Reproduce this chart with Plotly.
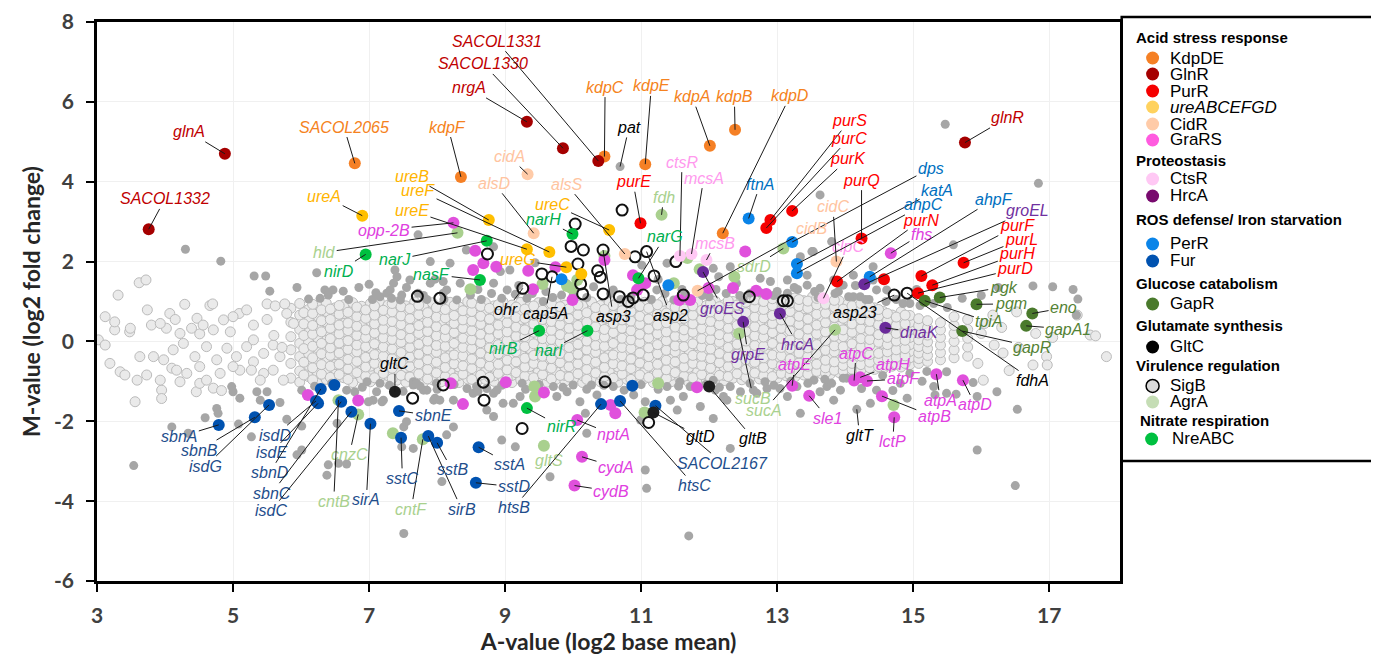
import plotly.graph_objects as go

# ======================= DATA =======================
# Labelled / highlighted genes per regulon ("" = unlabelled point of that regulon)
kdp_names = ["SACOL2065", "kdpF", "kdpC", "kdpE", "kdpA", "kdpB", "kdpD"]
kdp_A = [6.79, 8.35, 10.46, 11.06, 12.01, 12.38, 12.20]
kdp_M = [4.46, 4.12, 4.63, 4.44, 4.90, 5.30, 2.71]

gln_names = ["glnA", "SACOL1332", "SACOL1330", "SACOL1331", "nrgA", "glnR"]
gln_A = [4.88, 3.76, 9.85, 10.37, 9.32, 15.76]
gln_M = [4.70, 2.81, 4.84, 4.52, 5.50, 4.98]

pur_names = ["purE", "purS", "purC", "purK", "purQ", "purN", "purF", "purL", "purH", "purD", ""]
pur_A = [10.99, 12.90, 12.84, 13.22, 14.24, 13.88, 15.12, 15.74, 15.28, 15.07, 14.57]
pur_M = [2.96, 3.04, 2.84, 3.27, 2.58, 1.50, 1.64, 1.97, 1.41, 1.21, 1.56]

ure_names = ["ureA", "ureB", "ureF", "ureE", "ureG", "ureC", ""]
ure_A = [6.90, 8.76, 9.65, 9.32, 9.90, 10.53, 10.12]
ure_M = [3.15, 3.04, 2.24, 2.31, 1.86, 2.79, 1.69]

cid_names = ["cidA", "alsD", "alsS", "cidC", "cidB"]
cid_A = [9.33, 9.42, 10.76, 13.87, 11.83]
cid_M = [4.19, 2.71, 2.19, 2.00, 1.27]

gra_names = ["opp-2B", "fhs", "atpE", "sle1", "atpC", "atpH", "atpF", "atpA", "atpD",
             "atpB", "lctP", "nptA", "cydA", "cydB"] + [""] * 28
gra_A = [8.24, 14.67, 13.22, 13.47, 14.13, 14.22, 14.32, 15.34, 15.73, 14.54, 14.72, 10.06, 10.13, 10.02,
         8.56, 8.68, 8.87, 8.53, 9.34, 9.41, 9.74, 9.99, 10.46, 10.88, 11.06, 10.94, 11.56, 11.72,
         12.53, 12.35, 12.69, 12.84, 11.99, 6.10, 6.84, 8.20, 8.38, 9.01, 9.57, 10.55, 10.62, 11.82]
gra_M = [2.97, 2.21, -1.11, -1.36, -0.98, -0.90, -0.99, -0.82, -0.97, -1.37, -1.90, -1.97, -2.89, -3.61,
         2.27, 1.96, 1.87, 1.79, 1.77, 1.31, 1.86, 1.04, 2.04, 1.66, 1.46, 1.29, 1.04, 1.04,
         2.25, 1.34, 1.27, 1.19, 1.34, -1.34, -1.48, -1.05, -1.57, -1.02, -1.28, -1.59, -1.80, -1.15]

cts_names = ["ctsR", "mcsA", "mcsB", "clpC"]
cts_A = [11.57, 11.74, 11.96, 13.68]
cts_M = [2.14, 2.19, 2.04, 1.08]

hrc_names = ["groES", "grpE", "hrcA", "dnaK", "groEL"]
hrc_A = [11.91, 12.50, 13.04, 14.59, 14.28]
hrc_M = [1.74, 0.49, 0.70, 0.34, 1.43]

per_names = ["ftnA", "dps", "katA", "ahpC", "ahpF", "", ""]
per_A = [12.58, 13.22, 13.29, 13.29, 14.36, 9.83, 11.40]
per_M = [3.08, 2.49, 1.94, 1.71, 1.62, 1.56, 1.41]

fur_names = ["sbnA", "sbnB", "isdG", "isdD", "isdE", "sbnD", "sbnC", "isdC", "sirA", "sbnE", "sstC",
             "sirB", "sstB", "sstA", "sstD", "htsB", "htsC", "SACOL2167", "", ""]
fur_A = [4.79, 5.32, 5.53, 6.22, 6.25, 6.29, 6.59, 6.74, 7.02, 7.44, 7.47, 7.87, 8.00, 8.61, 8.57,
         10.41, 10.69, 11.21, 6.49, 10.87]
fur_M = [-2.09, -1.90, -1.59, -1.49, -1.55, -1.19, -1.51, -1.76, -2.06, -1.74, -2.41, -2.37, -2.54,
         -2.65, -3.54, -1.57, -1.49, -1.61, -1.09, -1.11]

gap_names = ["pgk", "pgm", "tpiA", "eno", "gapA1", "gapR"]
gap_A = [15.39, 15.93, 15.17, 16.75, 16.66, 15.72]
gap_M = [1.10, 0.93, 1.02, 0.70, 0.39, 0.26]

gltc_names = ["gltC", "gltB", "gltD"]
gltc_A = [7.38, 12.00, 11.18]
gltc_M = [-1.26, -1.13, -1.78]

sigb_names = ["ohr", "cap5A", "asp3", "asp2", "asp23", "fdhA"] + [""] * 32
sigb_A = [9.26, 9.69, 10.44, 11.08, 14.72, 14.91,
          10.72, 10.03, 9.97, 10.15, 10.07, 9.54, 10.11, 10.14, 8.74, 7.71, 8.04, 10.36, 10.40, 10.44,
          10.68, 10.81, 10.91, 11.19, 11.03, 11.51, 11.62, 12.59, 13.09, 13.15, 8.09, 8.68, 7.64, 8.69,
          10.47, 9.25, 11.11, 10.88]
sigb_M = [1.33, 1.62, 2.29, 2.25, 1.16, 1.21,
          3.29, 2.94, 2.38, 2.29, 1.94, 1.69, 1.44, 1.19, 2.19, 1.13, 1.08, 1.77, 1.61, 1.19,
          1.12, 1.00, 2.12, 1.64, 1.16, 2.00, 1.16, 1.12, 1.02, 1.02, -1.09, -1.02, -1.42, -1.47,
          -1.01, -2.18, -2.03, 1.09]

agr_names = ["hld", "fdh", "sdrD", "sucB", "sucA", "cnzC", "cntB", "cntF", "gltS"] + [""] * 16
agr_A = [8.30, 11.30, 13.09, 12.44, 13.85, 6.84, 6.55, 7.79, 9.57,
         7.35, 9.43, 9.44, 11.25, 11.05, 8.49, 9.55, 9.91, 10.06, 9.98, 10.46, 11.48, 11.68, 11.86,
         12.37, 14.71]
agr_M = [2.72, 3.17, 2.33, 0.20, 0.29, -1.83, -1.47, -2.45, -2.61,
         -2.30, -1.13, -1.38, -1.05, -1.78, 1.31, 1.44, 1.39, 1.54, 1.33, 2.14, 1.46, 2.09, 1.81,
         1.62, -1.59]

nre_names = ["nirD", "narJ", "nasF", "narH", "narG", "nirB", "narI", "nirR"]
nre_A = [6.95, 8.73, 8.63, 9.99, 10.96, 9.50, 10.21, 9.32]
nre_M = [2.18, 2.52, 1.54, 2.69, 1.58, 0.27, 0.27, -1.67]

# labelled genes that are not part of a coloured regulon
other_names = ["pat", "gltT"]
other_A = [10.69, 14.17]
other_M = [4.38, -1.70]

# significant, non-highlighted genes (dark grey)
sig_gray = [
    (3.54, -3.11), (4.30, 2.31), (4.82, 2.01), (5.31, 1.64), (5.48, 1.64), (6.23, 1.72), (5.94, 1.35),
    (5.54, 1.26), (6.11, 1.06), (6.62, 1.26), (7.00, 1.43), (7.72, 2.67), (7.90, 2.00), (7.38, 1.79),
    (7.41, 1.62), (7.36, 1.46), (7.97, 1.56), (8.09, 1.50), (8.19, 1.96), (7.46, 1.04), (7.16, 1.12),
    (7.26, 1.21), (6.35, 1.29), (6.40, 1.16), (6.47, 1.29), (6.28, 1.08), (8.09, 1.21), (8.29, 1.04),
    (7.90, 1.46), (7.72, 1.21), (7.60, 1.54), (7.33, 1.08), (8.43, 2.29), (8.83, 2.37), (8.93, 1.75),
    (9.07, 1.79), (8.34, 1.46), (8.83, 1.46), (9.03, 1.29), (7.31, 1.29), (7.48, 1.16), (8.14, 1.29),
    (8.49, 1.16), (8.95, 1.08), (9.32, 1.08), (9.56, 1.00), (9.83, 1.16), (9.44, 1.97), (10.30, 1.37),
    (10.59, 1.29), (11.01, 1.91), (11.23, 1.29), (11.38, 1.96), (11.48, 1.04), (13.63, 3.67),
    (13.51, 2.25), (13.34, 2.12), (13.44, 1.41), (13.15, 1.54), (12.90, 1.50), (12.75, 1.58),
    (12.60, 1.21), (12.31, 1.87), (12.14, 1.62), (12.06, 1.83), (13.15, 1.21), (13.63, 1.33),
    (13.83, 1.54), (13.97, 1.41), (14.12, 1.66), (14.41, 1.87), (14.46, 1.29), (14.22, 1.12),
    (14.61, 1.29), (14.41, 1.54), (14.12, 1.12), (13.80, 2.50), (13.53, 2.25), (13.44, 1.66),
    (15.59, 2.42), (15.72, 1.08), (16.76, 1.39), (17.05, 1.37), (17.35, 1.30), (17.42, 1.06),
    (17.40, 0.66), (16.84, 3.96), (15.47, 5.44),
    (9.60, 1.25), (9.90, 1.45), (10.20, 1.10), (10.70, 1.05), (10.95, 1.35), (11.25, 1.55),
    (11.60, 1.30), (11.90, 1.15), (12.10, 1.30), (12.40, 1.45), (12.50, 1.05), (12.95, 1.15),
    (13.25, 1.35), (13.60, 1.10), (13.90, 1.25), (14.15, 1.40), (14.30, 1.05), (14.75, 1.05),
    (14.95, 0.95), (15.05, 1.30), (15.30, 0.95), (15.50, 0.85), (16.00, 1.15), (16.25, 1.35),
    (6.85, 1.35), (6.70, 1.05), (7.05, 1.05), (7.55, 1.35), (7.85, 1.05), (8.60, 1.30), (8.65, 1.05),
    (9.20, 1.40), (9.40, 1.20), (8.10, 1.05), (7.10, 1.22), (7.80, 1.15), (8.80, 1.20), (9.15, 1.18),
    (9.70, 1.10), (10.00, 1.15), (10.55, 1.20), (10.85, 1.12), (11.15, 1.05), (11.35, 1.20),
    (11.65, 1.18), (12.00, 1.12), (12.25, 1.20), (12.45, 1.15), (12.75, 1.22), (13.00, 1.25),
    (13.30, 1.30), (13.55, 1.25), (13.85, 1.20), (14.05, 1.12), (14.35, 1.05), (14.60, 1.00),
    (14.85, 0.95), (15.10, 0.90),
    (4.98, -1.13), (5.00, -1.26), (5.10, -1.42), (4.76, -1.68), (4.78, -1.80), (4.59, -1.91),
    (4.10, -2.14), (4.34, -2.30), (5.08, -2.07), (5.27, -2.39), (5.79, -1.95), (6.01, -2.12),
    (5.94, -2.84), (6.40, -3.09), (6.67, -3.07), (6.53, -2.05), (5.35, -1.26), (5.40, -1.47),
    (5.50, -1.26), (5.69, -1.53), (6.01, -1.22), (6.79, -1.26), (6.97, -1.01), (7.16, -1.05),
    (7.06, -1.47), (7.21, -1.47), (7.65, -1.01), (7.80, -1.22), (7.97, -1.42), (8.14, -2.34),
    (8.07, -3.51), (7.48, -2.64), (7.51, -2.14), (7.51, -4.81), (6.67, -1.22), (6.99, -1.51),
    (7.11, -1.26), (7.19, -1.51), (7.65, -1.09), (7.95, -1.47), (8.44, -1.18), (8.53, -1.30),
    (8.73, -1.72), (8.83, -1.30), (7.55, -2.01), (7.65, -2.68), (8.24, -2.14), (6.55, -3.05),
    (6.38, -3.35), (6.01, -2.72), (7.70, -1.05), (7.85, -1.22), (7.99, -1.05), (8.04, -1.47),
    (8.24, -1.47), (8.58, -1.13), (8.73, -1.18), (8.88, -1.22), (8.97, -1.55), (8.83, -1.88),
    (9.12, -1.55), (9.22, -1.38), (9.25, -1.05), (9.71, -1.13), (9.76, -1.38), (9.91, -1.26),
    (10.00, -1.09), (10.10, -1.51), (10.18, -1.80), (10.27, -1.09), (10.35, -1.34), (10.59, -1.13),
    (10.89, -1.34), (10.99, -1.97), (11.06, -1.51), (11.38, -1.13), (11.43, -1.47), (11.53, -1.72),
    (11.62, -1.38), (11.72, -1.13), (11.87, -1.63), (12.09, -1.22), (12.21, -1.38), (12.31, -1.13),
    (12.46, -1.26), (12.70, -1.30), (12.85, -1.18), (12.06, -1.93), (12.31, -2.68), (11.06, -3.22),
    (11.08, -3.68), (9.66, -3.39), (9.15, -2.64), (8.95, -2.47), (10.20, -2.30), (13.34, -1.80),
    (13.15, -1.38), (13.29, -1.13), (13.83, -1.47), (11.57, -1.01), (12.06, -0.97), (12.26, -1.47),
    (12.65, -1.22), (12.82, -1.01), (13.04, -1.18), (13.54, -0.97), (13.73, -1.13), (13.93, -1.22),
    (14.02, -0.92), (14.37, -1.55), (14.46, -1.22), (14.91, -1.42), (14.81, -1.05), (15.49, -0.76),
    (15.30, -1.13), (16.23, -1.26), (15.88, -1.03), (15.94, -1.38), (15.63, -1.32), (15.49, -1.30),
    (15.32, -1.34), (15.13, -1.00), (14.70, -1.23), (16.53, -1.70), (15.94, -2.72), (16.50, -3.61),
    (14.24, -1.18), (13.80, -1.05), (13.63, -1.26), (13.97, -0.92), (11.70, -4.87),
    (6.20, -1.12), (6.45, -1.05), (6.90, -1.15), (7.30, -1.10), (7.50, -1.25), (7.75, -1.12),
    (8.00, -1.20), (8.25, -1.08), (8.60, -1.25), (8.95, -1.10), (9.30, -1.20), (9.50, -1.08),
    (9.85, -1.15), (10.20, -1.20), (10.45, -1.10), (10.75, -1.22), (11.00, -1.08), (11.25, -1.20),
    (11.55, -1.12), (11.95, -1.08), (12.15, -1.15), (12.60, -1.05), (12.95, -1.10), (13.20, -1.00),
    (13.45, -1.05), (13.70, -0.95), (14.10, -0.92), (14.55, -0.85), (14.95, -0.80), (15.20, -0.75),
]

# non-significant genes (light grey cloud): sparse outer points
bg_sparse = [
    (3.02, 0.04), (3.12, -0.09), (3.26, 0.29), (3.12, 0.62), (3.26, 0.49), (3.31, 1.16), (3.62, 1.47),
    (3.72, 1.54), (3.19, -0.55), (3.34, -0.76), (3.41, -0.84), (3.56, -1.51), (3.59, -0.97),
    (3.73, -0.84), (3.74, 0.79), (3.95, -1.22), (3.95, -1.43), (4.07, 0.70), (4.15, 0.55),
    (4.10, -0.67), (4.22, -1.01), (4.29, 0.93), (4.47, 0.58), (4.46, -1.26), (4.51, -1.05),
    (4.66, 0.90), (4.70, 0.94), (4.71, -1.17), (4.83, -1.23), (5.09, 0.70), (5.10, -0.72), (5.20, 0.79),
    (5.30, -0.51), (5.45, -0.80), (5.50, 0.94), (5.62, 0.89), (5.74, -0.97), (5.76, 0.94),
    (3.48, 0.24), (3.80, 0.41), (4.22, 0.20), (4.39, 0.33), (4.51, 0.19), (4.71, 0.29), (4.96, 0.24),
    (3.63, -0.38), (3.83, -0.38), (3.98, -0.46), (4.12, -0.21), (4.27, -0.05), (4.44, -0.38),
    (4.61, -0.13), (4.76, -0.46), (4.91, -0.17), (5.05, -0.38), (5.20, -0.13), (5.30, 0.04),
    (5.45, -0.30), (5.59, -0.09), (4.32, -0.80), (4.61, -0.97), (4.81, -0.80), (5.00, -0.63),
    (5.27, -0.72), (5.40, -0.97), (5.59, -0.72), (5.69, -0.38), (3.93, -0.97), (4.17, -0.72),
    (4.51, -0.63), (5.00, 0.62), (5.30, 0.41), (5.79, 0.70), (5.89, 0.45), (4.02, 0.33), (4.56, 0.41),
    (4.86, 0.54), (3.93, 0.45), (3.49, 0.33), (5.60, 0.15), (5.72, -0.15), (5.50, 0.55),
    (15.95, -0.55), (16.00, 0.20), (16.05, 0.45), (16.19, -0.09), (16.17, 0.66), (16.32, -0.29),
    (16.41, -0.73), (16.52, 0.74), (16.55, -0.15), (16.76, -0.59), (16.96, -0.38), (16.97, -0.59),
    (17.05, 0.10), (17.41, 0.66), (17.60, 0.16), (17.68, 0.14), (17.84, -0.38), (16.30, 0.35),
    (16.80, 0.20), (16.03, -0.97),
]

# non-significant genes (light grey cloud): dense core, one column of M values per A position
bg_col_A = [5.85, 5.98, 6.11, 6.24, 6.37, 6.50, 6.63, 6.76, 6.89, 7.02, 7.15, 7.28, 7.41, 7.54, 7.67,
            7.80, 7.93, 8.06, 8.19, 8.32, 8.45, 8.58, 8.71, 8.84, 8.97, 9.10, 9.23, 9.36, 9.49, 9.62,
            9.75, 9.88, 10.01, 10.14, 10.27, 10.40, 10.53, 10.66, 10.79, 10.92, 11.05, 11.18, 11.31,
            11.44, 11.57, 11.70, 11.83, 11.96, 12.09, 12.22, 12.35, 12.48, 12.61, 12.74, 12.87, 13.00,
            13.13, 13.26, 13.39, 13.52, 13.65, 13.78, 13.91, 14.04, 14.17, 14.30, 14.43, 14.56, 14.69,
            14.82, 14.95, 15.08, 15.21, 15.40, 15.60, 15.80]
bg_col_M = [
    [-0.92, -0.55, -0.21, 0.12, 0.48, 0.83],
    [-1.02, -0.74, -0.38, -0.05, 0.30, 0.66, 0.95],
    [-0.88, -0.60, -0.30, -0.02, 0.22, 0.51, 0.80],
    [-1.05, -0.78, -0.47, -0.16, 0.10, 0.37, 0.64, 0.90],
    [-0.95, -0.70, -0.42, -0.25, 0.02, 0.27, 0.49, 0.75, 0.96],
    [-1.00, -0.82, -0.58, -0.33, -0.12, 0.13, 0.36, 0.60, 0.84],
    [-0.91, -0.68, -0.47, -0.22, 0.01, 0.24, 0.45, 0.70, 0.92],
    [-1.03, -0.80, -0.59, -0.37, -0.14, 0.11, 0.33, 0.56, 0.79, 0.97],
    [-0.93, -0.72, -0.50, -0.27, -0.05, 0.19, 0.41, 0.64, 0.88],
    [-1.01, -0.83, -0.62, -0.40, -0.17, 0.06, 0.29, 0.51, 0.74, 0.95],
    [-0.94, -0.73, -0.51, -0.30, -0.08, 0.15, 0.38, 0.60, 0.83, 1.00],
    [-1.04, -0.86, -0.64, -0.42, -0.20, 0.03, 0.25, 0.47, 0.70, 0.91],
    [-0.97, -0.76, -0.55, -0.33, -0.11, 0.12, 0.35, 0.57, 0.80, 0.98],
    [-1.02, -0.84, -0.65, -0.44, -0.22, 0.00, 0.22, 0.45, 0.67, 0.89],
    [-0.93, -0.74, -0.53, -0.31, -0.09, 0.13, 0.34, 0.56, 0.78, 0.99],
    [-1.03, -0.85, -0.63, -0.41, -0.19, 0.04, 0.26, 0.48, 0.69, 0.90],
    [-0.96, -0.75, -0.54, -0.32, -0.10, 0.11, 0.33, 0.55, 0.77, 0.97],
    [-1.01, -0.86, -0.66, -0.43, -0.21, 0.02, 0.24, 0.46, 0.68, 0.88],
    [-0.95, -0.77, -0.55, -0.34, -0.12, 0.10, 0.32, 0.53, 0.76, 0.98],
    [-1.03, -0.85, -0.64, -0.42, -0.20, 0.01, 0.23, 0.44, 0.66, 0.87],
    [-0.94, -0.74, -0.53, -0.31, -0.09, 0.14, 0.36, 0.58, 0.79, 1.00],
    [-1.02, -0.84, -0.63, -0.41, -0.19, 0.04, 0.25, 0.47, 0.69, 0.90],
    [-0.95, -0.76, -0.54, -0.32, -0.11, 0.12, 0.34, 0.56, 0.78, 0.97],
    [-1.00, -0.86, -0.65, -0.43, -0.21, 0.02, 0.24, 0.45, 0.67, 0.89],
    [-0.93, -0.75, -0.53, -0.30, -0.08, 0.13, 0.35, 0.57, 0.80, 0.99],
    [-1.03, -0.85, -0.64, -0.42, -0.20, 0.03, 0.26, 0.48, 0.70, 0.91],
    [-0.96, -0.74, -0.52, -0.31, -0.10, 0.12, 0.33, 0.55, 0.77, 0.98],
    [-1.01, -0.84, -0.63, -0.41, -0.18, 0.04, 0.25, 0.46, 0.68, 0.88],
    [-0.94, -0.76, -0.55, -0.33, -0.11, 0.11, 0.32, 0.54, 0.76, 0.97],
    [-1.02, -0.86, -0.65, -0.43, -0.22, 0.01, 0.23, 0.45, 0.67, 0.90],
    [-0.95, -0.75, -0.54, -0.32, -0.09, 0.14, 0.36, 0.58, 0.79, 1.00],
    [-1.00, -0.85, -0.64, -0.42, -0.20, 0.02, 0.24, 0.46, 0.69, 0.91],
    [-0.93, -0.74, -0.53, -0.31, -0.10, 0.12, 0.34, 0.56, 0.78, 0.98],
    [-1.03, -0.86, -0.65, -0.43, -0.21, 0.03, 0.25, 0.47, 0.68, 0.89],
    [-0.96, -0.76, -0.55, -0.33, -0.11, 0.11, 0.33, 0.55, 0.77, 0.99],
    [-1.01, -0.84, -0.63, -0.41, -0.19, 0.02, 0.24, 0.46, 0.69, 0.90],
    [-0.94, -0.75, -0.54, -0.32, -0.10, 0.13, 0.35, 0.57, 0.78, 0.97],
    [-1.02, -0.85, -0.64, -0.42, -0.20, 0.04, 0.26, 0.48, 0.70, 0.91],
    [-0.95, -0.74, -0.52, -0.31, -0.09, 0.12, 0.34, 0.55, 0.77, 0.99],
    [-1.00, -0.86, -0.65, -0.43, -0.21, 0.01, 0.23, 0.45, 0.67, 0.88],
    [-0.93, -0.76, -0.55, -0.33, -0.11, 0.11, 0.33, 0.56, 0.78, 0.98],
    [-1.03, -0.84, -0.63, -0.41, -0.19, 0.03, 0.25, 0.47, 0.69, 0.90],
    [-0.96, -0.75, -0.53, -0.32, -0.10, 0.13, 0.35, 0.57, 0.79, 1.00],
    [-1.01, -0.85, -0.64, -0.42, -0.20, 0.02, 0.24, 0.46, 0.68, 0.89],
    [-0.94, -0.74, -0.54, -0.31, -0.09, 0.12, 0.34, 0.56, 0.77, 0.97],
    [-1.02, -0.86, -0.65, -0.43, -0.21, 0.04, 0.26, 0.48, 0.70, 0.91],
    [-0.95, -0.76, -0.55, -0.33, -0.11, 0.11, 0.33, 0.55, 0.78, 0.99],
    [-0.99, -0.84, -0.63, -0.41, -0.19, 0.02, 0.24, 0.46, 0.69, 0.90],
    [-0.93, -0.75, -0.53, -0.32, -0.10, 0.13, 0.35, 0.57, 0.79, 1.01],
    [-0.98, -0.85, -0.64, -0.42, -0.20, 0.03, 0.25, 0.47, 0.68, 0.92],
    [-0.92, -0.74, -0.52, -0.31, -0.09, 0.12, 0.34, 0.56, 0.78, 1.00],
    [-0.96, -0.83, -0.63, -0.41, -0.19, 0.01, 0.23, 0.45, 0.67, 0.89, 1.06],
    [-0.90, -0.72, -0.53, -0.32, -0.10, 0.12, 0.34, 0.56, 0.79, 1.01],
    [-0.94, -0.81, -0.62, -0.40, -0.18, 0.03, 0.25, 0.47, 0.69, 0.91, 1.08],
    [-0.88, -0.70, -0.51, -0.30, -0.08, 0.14, 0.36, 0.58, 0.80, 1.02],
    [-0.92, -0.80, -0.60, -0.39, -0.17, 0.04, 0.26, 0.48, 0.70, 0.92, 1.10],
    [-0.86, -0.69, -0.49, -0.28, -0.07, 0.15, 0.37, 0.59, 0.81, 1.03],
    [-0.89, -0.77, -0.58, -0.37, -0.16, 0.05, 0.27, 0.49, 0.71, 0.93, 1.09],
    [-0.84, -0.67, -0.47, -0.26, -0.05, 0.16, 0.38, 0.60, 0.82, 1.02],
    [-0.86, -0.74, -0.56, -0.35, -0.14, 0.07, 0.28, 0.50, 0.72, 0.94, 1.12],
    [-0.81, -0.64, -0.45, -0.24, -0.03, 0.18, 0.39, 0.61, 0.83, 1.04],
    [-0.82, -0.70, -0.53, -0.33, -0.12, 0.09, 0.30, 0.51, 0.73, 0.95],
    [-0.78, -0.61, -0.42, -0.22, -0.01, 0.20, 0.41, 0.62, 0.84, 1.02],
    [-0.79, -0.66, -0.50, -0.31, -0.10, 0.11, 0.32, 0.53, 0.74, 0.94],
    [-0.74, -0.57, -0.39, -0.20, 0.01, 0.22, 0.43, 0.64, 0.85],
    [-0.75, -0.62, -0.46, -0.28, -0.08, 0.13, 0.34, 0.55, 0.76, 0.92],
    [-0.70, -0.53, -0.36, -0.17, 0.03, 0.24, 0.45, 0.66, 0.84],
    [-0.68, -0.55, -0.40, -0.24, -0.05, 0.15, 0.36, 0.57, 0.75],
    [-0.62, -0.46, -0.30, -0.12, 0.07, 0.27, 0.47, 0.66],
    [-0.64, -0.50, -0.35, -0.19, -0.01, 0.18, 0.38, 0.58, 0.74],
    [-0.58, -0.41, -0.25, -0.08, 0.10, 0.29, 0.48, 0.65],
    [-0.55, -0.43, -0.29, -0.13, 0.04, 0.21, 0.40, 0.57],
    [-0.50, -0.35, -0.18, -0.01, 0.16, 0.34, 0.52],
    [-0.46, -0.28, -0.09, 0.10, 0.29, 0.47],
    [-0.41, -0.21, 0.00, 0.20, 0.40, 0.62],
    [-0.37, -0.14, 0.08, 0.30, 0.55],
]
# second, interleaved layer of the dense core: (A, [M values])
bg_layer2 = [
    (6.04, [-0.84, -0.52, -0.18, 0.15, 0.44, 0.72]),
    (6.17, [-0.96, -0.66, -0.41, -0.12, 0.18, 0.40, 0.70, 0.93]),
    (6.30, [-0.82, -0.58, -0.31, -0.05, 0.24, 0.52, 0.79]),
    (6.43, [-0.90, -0.62, -0.35, -0.16, 0.07, 0.33, 0.55, 0.81]),
    (6.56, [-0.83, -0.57, -0.29, -0.04, 0.19, 0.41, 0.68, 0.90]),
    (6.69, [-0.95, -0.69, -0.45, -0.20, 0.02, 0.27, 0.46, 0.73]),
    (6.82, [-0.78, -0.50, -0.26, -0.09, 0.15, 0.38, 0.62, 0.86]),
    (6.95, [-0.87, -0.64, -0.40, -0.13, 0.10, 0.29, 0.58, 0.79]),
    (7.08, [-0.91, -0.55, -0.33, -0.06, 0.21, 0.44, 0.66, 0.89]),
    (7.21, [-0.80, -0.60, -0.37, -0.14, 0.09, 0.31, 0.53, 0.78]),
    (7.34, [-0.93, -0.67, -0.43, -0.19, 0.05, 0.26, 0.50, 0.74, 0.95]),
    (7.47, [-0.85, -0.53, -0.28, -0.02, 0.17, 0.42, 0.64, 0.87]),
    (7.60, [-0.89, -0.63, -0.39, -0.15, 0.08, 0.32, 0.57, 0.82]),
    (7.73, [-0.81, -0.56, -0.32, -0.07, 0.20, 0.40, 0.67, 0.91]),
    (7.86, [-0.94, -0.70, -0.46, -0.21, 0.01, 0.25, 0.48, 0.72]),
    (7.99, [-0.79, -0.52, -0.27, -0.10, 0.14, 0.37, 0.61, 0.85]),
    (8.12, [-0.88, -0.65, -0.41, -0.12, 0.11, 0.30, 0.59, 0.80]),
    (8.25, [-0.92, -0.56, -0.34, -0.05, 0.22, 0.45, 0.65, 0.90]),
    (8.38, [-0.82, -0.61, -0.36, -0.15, 0.08, 0.33, 0.54, 0.77]),
    (8.51, [-0.95, -0.68, -0.44, -0.18, 0.04, 0.27, 0.51, 0.75, 0.96]),
    (8.64, [-0.84, -0.54, -0.29, -0.03, 0.18, 0.43, 0.63, 0.88]),
    (8.77, [-0.90, -0.62, -0.38, -0.16, 0.09, 0.31, 0.56, 0.83]),
    (8.90, [-0.80, -0.57, -0.31, -0.08, 0.19, 0.41, 0.68, 0.92]),
    (9.03, [-0.93, -0.71, -0.47, -0.22, 0.02, 0.24, 0.47, 0.71]),
    (9.16, [-0.78, -0.51, -0.26, -0.11, 0.13, 0.36, 0.60, 0.86]),
    (9.29, [-0.87, -0.64, -0.42, -0.13, 0.12, 0.29, 0.58, 0.81]),
    (9.42, [-0.91, -0.55, -0.35, -0.06, 0.23, 0.44, 0.66, 0.89]),
    (9.55, [-0.83, -0.60, -0.37, -0.14, 0.07, 0.32, 0.55, 0.78]),
    (9.68, [-0.94, -0.67, -0.43, -0.19, 0.05, 0.28, 0.50, 0.74, 0.95]),
    (9.81, [-0.85, -0.53, -0.30, -0.02, 0.17, 0.42, 0.64, 0.87]),
    (9.94, [-0.89, -0.63, -0.39, -0.15, 0.10, 0.33, 0.57, 0.82]),
    (10.07, [-0.81, -0.56, -0.32, -0.07, 0.20, 0.40, 0.67, 0.91]),
    (10.20, [-0.95, -0.70, -0.46, -0.21, 0.01, 0.25, 0.48, 0.72]),
    (10.33, [-0.79, -0.52, -0.27, -0.10, 0.14, 0.37, 0.61, 0.85]),
    (10.46, [-0.88, -0.65, -0.41, -0.12, 0.11, 0.30, 0.59, 0.80]),
    (10.59, [-0.92, -0.56, -0.34, -0.05, 0.22, 0.45, 0.65, 0.90]),
    (10.72, [-0.82, -0.61, -0.36, -0.15, 0.08, 0.33, 0.54, 0.77]),
    (10.85, [-0.95, -0.68, -0.44, -0.18, 0.04, 0.27, 0.51, 0.75, 0.96]),
    (10.98, [-0.84, -0.54, -0.29, -0.03, 0.18, 0.43, 0.63, 0.88]),
    (11.11, [-0.90, -0.62, -0.38, -0.16, 0.09, 0.31, 0.56, 0.83]),
    (11.24, [-0.80, -0.57, -0.31, -0.08, 0.19, 0.41, 0.68, 0.92]),
    (11.37, [-0.93, -0.71, -0.47, -0.22, 0.02, 0.24, 0.47, 0.71]),
    (11.50, [-0.78, -0.51, -0.26, -0.11, 0.13, 0.36, 0.60, 0.86]),
    (11.63, [-0.87, -0.64, -0.42, -0.13, 0.12, 0.29, 0.58, 0.81]),
    (11.76, [-0.91, -0.55, -0.35, -0.06, 0.23, 0.44, 0.66, 0.89]),
    (11.89, [-0.83, -0.60, -0.37, -0.14, 0.07, 0.32, 0.55, 0.78]),
    (12.02, [-0.92, -0.67, -0.43, -0.19, 0.05, 0.28, 0.50, 0.74, 0.96]),
    (12.15, [-0.85, -0.53, -0.30, -0.02, 0.17, 0.42, 0.64, 0.87]),
    (12.28, [-0.88, -0.63, -0.39, -0.15, 0.10, 0.33, 0.57, 0.82, 1.02]),
    (12.41, [-0.81, -0.56, -0.32, -0.07, 0.20, 0.40, 0.67, 0.91]),
    (12.54, [-0.90, -0.70, -0.46, -0.21, 0.01, 0.25, 0.48, 0.72, 0.98]),
    (12.67, [-0.79, -0.52, -0.27, -0.10, 0.14, 0.37, 0.61, 0.85, 1.04]),
    (12.80, [-0.86, -0.65, -0.41, -0.12, 0.11, 0.30, 0.59, 0.80, 1.00]),
    (12.93, [-0.88, -0.56, -0.34, -0.05, 0.22, 0.45, 0.65, 0.90, 1.07]),
    (13.06, [-0.80, -0.61, -0.36, -0.15, 0.08, 0.33, 0.54, 0.77, 0.99]),
    (13.19, [-0.85, -0.68, -0.44, -0.18, 0.04, 0.27, 0.51, 0.75, 0.96]),
    (13.32, [-0.78, -0.54, -0.29, -0.03, 0.18, 0.43, 0.63, 0.88, 1.05]),
    (13.45, [-0.82, -0.62, -0.38, -0.16, 0.09, 0.31, 0.56, 0.83, 1.01]),
    (13.58, [-0.75, -0.57, -0.31, -0.08, 0.19, 0.41, 0.68, 0.92, 1.08]),
    (13.71, [-0.79, -0.66, -0.47, -0.22, 0.02, 0.24, 0.47, 0.71, 0.93]),
    (13.84, [-0.72, -0.51, -0.26, -0.11, 0.13, 0.36, 0.60, 0.86, 1.03]),
    (13.97, [-0.74, -0.60, -0.42, -0.13, 0.12, 0.29, 0.58, 0.81]),
    (14.10, [-0.70, -0.55, -0.35, -0.06, 0.23, 0.44, 0.66, 0.89]),
    (14.23, [-0.71, -0.58, -0.37, -0.14, 0.07, 0.32, 0.55, 0.78, 0.95]),
    (14.36, [-0.66, -0.52, -0.33, -0.10, 0.05, 0.28, 0.50, 0.72, 0.88]),
    (14.49, [-0.63, -0.47, -0.30, -0.02, 0.17, 0.42, 0.64, 0.80]),
    (14.62, [-0.60, -0.43, -0.26, -0.08, 0.10, 0.33, 0.52, 0.70]),
    (14.75, [-0.57, -0.40, -0.21, 0.01, 0.20, 0.40, 0.61]),
    (14.88, [-0.55, -0.36, -0.18, 0.03, 0.24, 0.44, 0.66]),
]

x_ticks = [3, 5, 7, 9, 11, 13, 15, 17]
y_ticks = [-6, -4, -2, 0, 2, 4, 6, 8]

legend_sections = [
    ("Acid stress response", ["KdpDE", "GlnR", "PurR", "ureABCEFGD", "CidR", "GraRS"]),
    ("Proteostasis", ["CtsR", "HrcA"]),
    ("ROS defense/ Iron starvation", ["PerR", "Fur"]),
    ("Glucose catabolism", ["GapR"]),
    ("Glutamate synthesis", ["GltC"]),
    ("Virulence regulation", ["SigB", "AgrA"]),
    ("Nitrate respiration", ["NreABC"]),
]

# ======================= STYLE / LAYOUT =======================
REGULONS = [  # drawing order (bottom -> top)
    ("AgrA", agr_names, agr_A, agr_M),
    ("GraRS", gra_names, gra_A, gra_M),
    ("SigB", sigb_names, sigb_A, sigb_M),
    ("CtsR", cts_names, cts_A, cts_M),
    ("PerR", per_names, per_A, per_M),
    ("Fur", fur_names, fur_A, fur_M),
    ("HrcA", hrc_names, hrc_A, hrc_M),
    ("ureABCEFGD", ure_names, ure_A, ure_M),
    ("CidR", cid_names, cid_A, cid_M),
    ("KdpDE", kdp_names, kdp_A, kdp_M),
    ("GlnR", gln_names, gln_A, gln_M),
    ("PurR", pur_names, pur_A, pur_M),
    ("GapR", gap_names, gap_A, gap_M),
    ("GltC", gltc_names, gltc_A, gltc_M),
    ("NreABC", nre_names, nre_A, nre_M),
]

MARKER_COLOR = {
    "KdpDE": "#F58025", "GlnR": "#A50000", "PurR": "#F50000", "ureABCEFGD": "#FFBF00",
    "CidR": "#FFCBA8", "GraRS": "#E050DC", "CtsR": "#FFC8F4", "HrcA": "#6A2A9A",
    "PerR": "#0A84E8", "Fur": "#0052B0", "GapR": "#4A7A2C", "GltC": "#1E1E1E",
    "SigB": "rgba(0,0,0,0)", "AgrA": "#A9D08E", "NreABC": "#00C040",
}
LEGEND_COLOR = dict(MARKER_COLOR, ureABCEFGD="#FFD25E", GraRS="#FF5BDF", HrcA="#780A6E",
                    AgrA="#C5DDB5", SigB="#D9D9D9", GltC="#000000")
TEXT_COLOR = {
    "KdpDE": "#F58220", "GlnR": "#C00000", "PurR": "#FF0000", "ureABCEFGD": "#FFB400",
    "CidR": "#FFC4A0", "GraRS": "#E040E0", "CtsR": "#FF99EE", "HrcA": "#7030A0",
    "PerR": "#0070C0", "Fur": "#1F4E8C", "GapR": "#548235", "GltC": "#000000",
    "SigB": "#000000", "AgrA": "#A9D18E", "NreABC": "#00B050", "other": "#000000",
}

# label text centre (A, M) for every labelled gene
LABEL_POS = {
    "glnA": (4.35, 5.25), "SACOL1332": (4.0, 3.57), "SACOL1330": (8.68, 6.95), "SACOL1331": (8.88, 7.52),
    "nrgA": (8.47, 6.35), "glnR": (16.38, 5.60), "SACOL2065": (6.63, 5.37), "kdpF": (8.16, 5.37),
    "kdpC": (10.47, 6.37), "kdpE": (11.15, 6.40), "kdpA": (11.75, 6.13), "kdpB": (12.37, 6.13),
    "kdpD": (13.19, 6.15), "purE": (10.88, 4.00), "purS": (14.06, 5.53), "purC": (14.06, 5.09),
    "purK": (14.04, 4.57), "purQ": (14.24, 4.04), "purN": (15.12, 3.04), "purF": (16.53, 2.90),
    "purL": (16.59, 2.56), "purH": (16.53, 2.19), "purD": (16.50, 1.82), "ureA": (6.34, 3.64),
    "ureB": (7.63, 4.14), "ureF": (7.72, 3.79), "ureE": (7.63, 3.27), "ureG": (9.19, 2.04),
    "ureC": (9.69, 3.44), "cidA": (9.06, 4.63), "alsD": (8.84, 3.96), "alsS": (9.90, 3.94),
    "cidC": (13.82, 3.37), "cidB": (13.50, 2.84), "opp-2B": (7.22, 2.79), "fhs": (15.12, 2.69),
    "atpE": (13.26, -0.59), "sle1": (13.74, -1.92), "atpC": (14.16, -0.29), "atpH": (14.70, -0.59),
    "atpF": (14.85, -0.94), "atpA": (15.40, -1.47), "atpD": (15.91, -1.59), "atpB": (15.31, -1.89),
    "lctP": (14.70, -2.51), "nptA": (10.60, -2.34), "cydA": (10.63, -3.15), "cydB": (10.56, -3.75),
    "ctsR": (11.60, 4.49), "mcsA": (11.92, 4.09), "mcsB": (12.09, 2.46), "clpC": (14.04, 2.37),
    "groES": (12.20, 0.83), "grpE": (12.57, -0.32), "hrcA": (13.30, -0.07), "dnaK": (15.09, 0.22),
    "groEL": (16.68, 3.27), "ftnA": (12.75, 3.94), "dps": (15.26, 4.34), "katA": (15.35, 3.79),
    "ahpC": (15.15, 3.42), "ahpF": (16.18, 3.56), "sbnA": (4.21, -2.39), "sbnB": (4.51, -2.72),
    "isdG": (4.60, -3.12), "isdD": (5.62, -2.35), "isdE": (5.56, -2.79), "sbnD": (5.54, -3.29),
    "sbnC": (5.57, -3.80), "isdC": (5.56, -4.24), "sirA": (6.96, -3.97), "sbnE": (7.94, -1.86),
    "sstC": (7.49, -3.43), "sirB": (8.36, -4.20), "sstB": (8.22, -3.22), "sstA": (9.07, -3.07),
    "sstD": (9.13, -3.64), "htsB": (9.13, -4.16), "htsC": (11.78, -3.61), "SACOL2167": (12.20, -3.05),
    "pgk": (16.33, 1.36), "pgm": (16.43, 0.94), "tpiA": (16.12, 0.49), "eno": (17.21, 0.84),
    "gapA1": (17.28, 0.31), "gapR": (16.76, -0.14), "gltC": (7.38, -0.56), "gltB": (12.65, -2.44),
    "gltD": (11.87, -2.39), "ohr": (9.02, 0.79), "cap5A": (9.59, 0.70), "asp3": (10.59, 0.62),
    "asp2": (11.43, 0.66), "asp23": (14.15, 0.72), "fdhA": (16.76, -0.98), "hld": (6.34, 2.23),
    "fdh": (11.33, 3.61), "sdrD": (12.66, 1.87), "sucB": (12.65, -1.42), "sucA": (12.81, -1.72),
    "cnzC": (6.71, -2.84), "cntB": (6.48, -4.01), "cntF": (7.62, -4.20), "gltS": (9.64, -2.97),
    "nirD": (6.56, 1.76), "narJ": (7.38, 2.04), "nasF": (7.92, 1.68), "narH": (9.57, 3.06),
    "narG": (11.35, 2.62), "nirB": (8.98, -0.17), "narI": (9.64, -0.23), "nirR": (9.83, -2.14),
    "pat": (10.82, 5.36), "gltT": (14.21, -2.35),
}
NO_LEADER = {"gltS"}

LABEL_FONT = "Liberation Sans, Arial, sans-serif"
AXIS_FONT = "Lato, Calibri, sans-serif"

# ======================= FIGURE =======================
fig = go.Figure()

light_A, light_M = [], []
for a, ms in zip(bg_col_A, bg_col_M):
    light_A += [a] * len(ms)
    light_M += ms
for a, ms in bg_layer2:
    light_A += [a] * len(ms)
    light_M += ms
light_A += [p[0] for p in bg_sparse]
light_M += [p[1] for p in bg_sparse]

fig.add_trace(go.Scatter(x=light_A, y=light_M, mode="markers", hoverinfo="skip",
                         marker=dict(size=10, color="#EAEAEA", line=dict(color="#BBBBBB", width=1))))
fig.add_trace(go.Scatter(x=[p[0] for p in sig_gray], y=[p[1] for p in sig_gray], mode="markers",
                         hoverinfo="skip", marker=dict(size=9, color="#A6A6A6")))
fig.add_trace(go.Scatter(x=other_A, y=other_M, mode="markers", hoverinfo="skip",
                         marker=dict(size=9, color="#A6A6A6")))

for grp, names, A, M in REGULONS:
    if grp == "SigB":
        mk = dict(size=11, color="rgba(0,0,0,0)", line=dict(color="#111111", width=2))
    else:
        mk = dict(size=12, color=MARKER_COLOR[grp], line=dict(width=0))
    fig.add_trace(go.Scatter(x=A, y=M, mode="markers", marker=mk, text=names,
                             hovertemplate="%{text}<extra>" + grp + "</extra>"))

annotations = []


def add_label(name, a, m, color):
    lx, ly = LABEL_POS[name]
    ann = dict(text="<i>" + name + "</i>", font=dict(family=LABEL_FONT, size=16, color=color),
               xref="x", yref="y")
    if name in NO_LEADER:
        ann.update(x=lx, y=ly, showarrow=False)
    else:
        ann.update(x=a, y=m, ax=lx, ay=ly, axref="x", ayref="y", showarrow=True, arrowhead=0,
                   arrowwidth=1, arrowcolor="#1A1A1A", standoff=0, startstandoff=0)
    annotations.append(ann)


for grp, names, A, M in REGULONS:
    for n, a, m in zip(names, A, M):
        if n:
            add_label(n, a, m, TEXT_COLOR[grp])
for n, a, m in zip(other_names, other_A, other_M):
    add_label(n, a, m, TEXT_COLOR["other"])

# ---------------- custom legend (second, hidden axes in px-like units) ----------------
HEADER_Y = [20, 144, 203, 267, 309, 349, 404]
HEADER_X = [13, 13, 13, 13, 13, 13, 17]
ITEM_Y = {"KdpDE": 41, "GlnR": 57, "PurR": 74, "ureABCEFGD": 90, "CidR": 107, "GraRS": 123,
          "CtsR": 162, "HrcA": 179, "PerR": 227, "Fur": 244, "GapR": 287, "GltC": 330,
          "SigB": 369, "AgrA": 385, "NreABC": 422}

for (title, items), hy, hx in zip(legend_sections, HEADER_Y, HEADER_X):
    annotations.append(dict(text="<b>" + title + "</b>", x=hx, y=hy, xref="x2", yref="y2",
                            xanchor="left", yanchor="middle", showarrow=False,
                            font=dict(family=LABEL_FONT, size=15, color="#000000")))
    for it in items:
        txt = "<i>" + it + "</i>" if it == "ureABCEFGD" else it
        tx = 49 if it == "NreABC" else 47
        annotations.append(dict(text=txt, x=tx, y=ITEM_Y[it], xref="x2", yref="y2",
                                xanchor="left", yanchor="middle", showarrow=False,
                                font=dict(family=LABEL_FONT, size=17, color="#000000")))

leg_items = [it for _, items in legend_sections for it in items]
fig.add_trace(go.Scatter(
    x=[31 if it == "NreABC" else 32 for it in leg_items], y=[ITEM_Y[it] for it in leg_items],
    mode="markers", xaxis="x2", yaxis="y2", hoverinfo="skip",
    marker=dict(size=13, color=[LEGEND_COLOR[it] for it in leg_items],
                line=dict(color=["#000000" if it == "SigB" else LEGEND_COLOR[it] for it in leg_items],
                          width=[1.5 if it == "SigB" else 0 for it in leg_items]))))

shapes = [dict(type="rect", xref="paper", yref="paper", x0=0.7993, x1=1.05, y0=0.2128, y1=1.0,
               line=dict(color="#000000", width=2.5), fillcolor="rgba(0,0,0,0)", layer="above")]

tickfont = dict(family=AXIS_FONT, size=21, color="#404040", weight="bold")
titlefont = dict(family=AXIS_FONT, size=23, color="#262626", weight="bold")

# the page body adds an 8 px offset, so the figure is drawn 8 px smaller
fig.update_layout(
    width=1371, height=651,
    margin=dict(l=89, r=0, t=9, b=78),
    paper_bgcolor="white", plot_bgcolor="white",
    showlegend=False,
    annotations=annotations,
    shapes=shapes,
    xaxis=dict(domain=[0, 0.798], range=[3, 18.04], tickvals=x_ticks,
               ticktext=[str(v) for v in x_ticks], ticks="outside", ticklen=8, tickwidth=2,
               tickcolor="#000000", showline=True, linewidth=2.5, linecolor="#000000", mirror=True,
               showgrid=True, gridcolor="#F0F0F0", gridwidth=1, zeroline=False, tickfont=tickfont,
               ticklabelstandoff=6, automargin=False,
               title=dict(text="A-value (log2 base mean)", font=titlefont, standoff=4)),
    yaxis=dict(domain=[0, 0.9911], range=[-6, 8], tickvals=y_ticks,
               ticktext=[str(v) for v in y_ticks], ticks="outside", ticklen=8, tickwidth=2,
               tickcolor="#000000", showline=True, linewidth=2.5, linecolor="#000000", mirror=True,
               showgrid=True, gridcolor="#F0F0F0", gridwidth=1, zeroline=False, tickfont=tickfont,
               ticklabelstandoff=8, automargin=False,
               title=dict(text="M-value (log2 fold change)", font=titlefont, standoff=7)),
    xaxis2=dict(domain=[0.7985, 1.0], range=[0, 259], visible=False, anchor="y2", fixedrange=True),
    yaxis2=dict(domain=[0.2128, 1.0], range=[444, 0], visible=False, anchor="x2", fixedrange=True),
)

fig.write_html("out.html")
